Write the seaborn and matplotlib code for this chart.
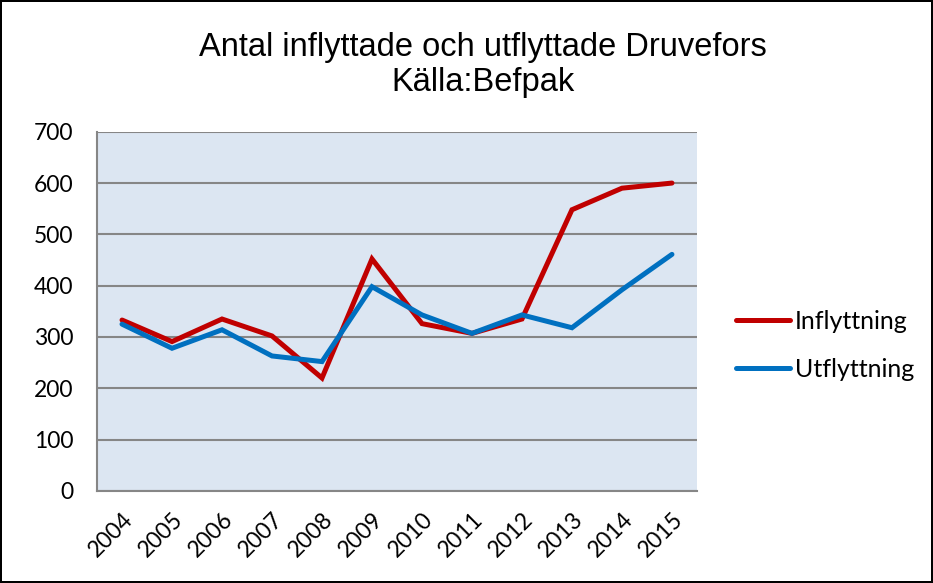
import numpy as np
import pandas as pd
import matplotlib
matplotlib.use("Agg")
import matplotlib.pyplot as plt
from matplotlib.ticker import FixedLocator
import seaborn as sns

# =========================
# DATA
# =========================

years = [2004, 2005, 2006, 2007, 2008, 2009, 2010, 2011, 2012, 2013, 2014, 2015]
inflyttning = [333, 291, 335, 302, 220, 452, 326, 307, 335, 548, 590, 600]
utflyttning = [325, 278, 314, 263, 252, 398, 343, 307, 343, 318, 392, 461]
series_names = ["Inflyttning", "Utflyttning"]
title_text = "Antal inflyttade och utflyttade Druvefors\nKälla:Befpak"

df = pd.DataFrame({
    "year": years * 2,
    "value": inflyttning + utflyttning,
    "serie": [series_names[0]] * len(years) + [series_names[1]] * len(years),
})

# =========================
# STYLE
# =========================

sns.set_style("white")
plt.rcParams['font.family'] = ['Lato', 'DejaVu Sans']
plt.rcParams['text.color'] = "black"

fig = plt.figure(figsize=(9.33, 5.83), dpi=100)
fig.patch.set_edgecolor("black")
fig.patch.set_linewidth(1.5)
ax = fig.add_axes([0.104, 0.158, 0.643, 0.616])
ax.set_facecolor("#DCE6F2")

sns.lineplot(
    data=df,
    x="year",
    y="value",
    hue="serie",
    palette=["#C00000", "#0070C0"],
    linewidth=3.6,
    ax=ax,
    zorder=3,
)
for line in ax.lines:
    line.set_solid_capstyle("round")
    line.set_solid_joinstyle("miter")

# =========================
# AXES
# =========================

ax.set_xlim(years[0] - 0.5, years[-1] + 0.5)
ax.set_ylim(0, 700)
ax.set_yticks(range(0, 701, 100))
ax.set_xticks(years)
ax.set_xticklabels([str(y) for y in years], rotation=45, ha="right",
                   rotation_mode="anchor", fontsize=16.5)
ax.xaxis.set_minor_locator(FixedLocator(np.arange(years[0] - 0.5, years[-1] + 1, 1)))
ax.tick_params(axis="x", which="major", length=0, pad=13, labelcolor="black")
ax.tick_params(axis="x", which="minor", length=6, width=1.2, color="#868686")
ax.tick_params(axis="y", length=5, width=1.2, color="#868686", labelsize=16.5,
               pad=12, labelcolor="black")
ax.set_xlabel("")
ax.set_ylabel("")

ax.yaxis.grid(True, color="#868686", linewidth=1.5, zorder=1)
ax.set_axisbelow(True)
for side in ["top", "right"]:
    ax.spines[side].set_visible(False)
for side in ["left", "bottom"]:
    ax.spines[side].set_color("#868686")
    ax.spines[side].set_linewidth(1.5)

# =========================
# TITLE + LEGEND
# =========================

fig.text(0.518, 0.888, title_text, ha="center", va="center",
         fontsize=23.5, family=["Liberation Sans", "DejaVu Sans"], linespacing=1.15)

ax.legend(
    loc="center left",
    bbox_to_anchor=(1.065, 0.405),
    frameon=False,
    fontsize=18,
    borderpad=0,
    borderaxespad=0,
    handlelength=2.15,
    handletextpad=0.2,
    labelspacing=1.0,
)

fig.savefig("out.png", dpi=100)
